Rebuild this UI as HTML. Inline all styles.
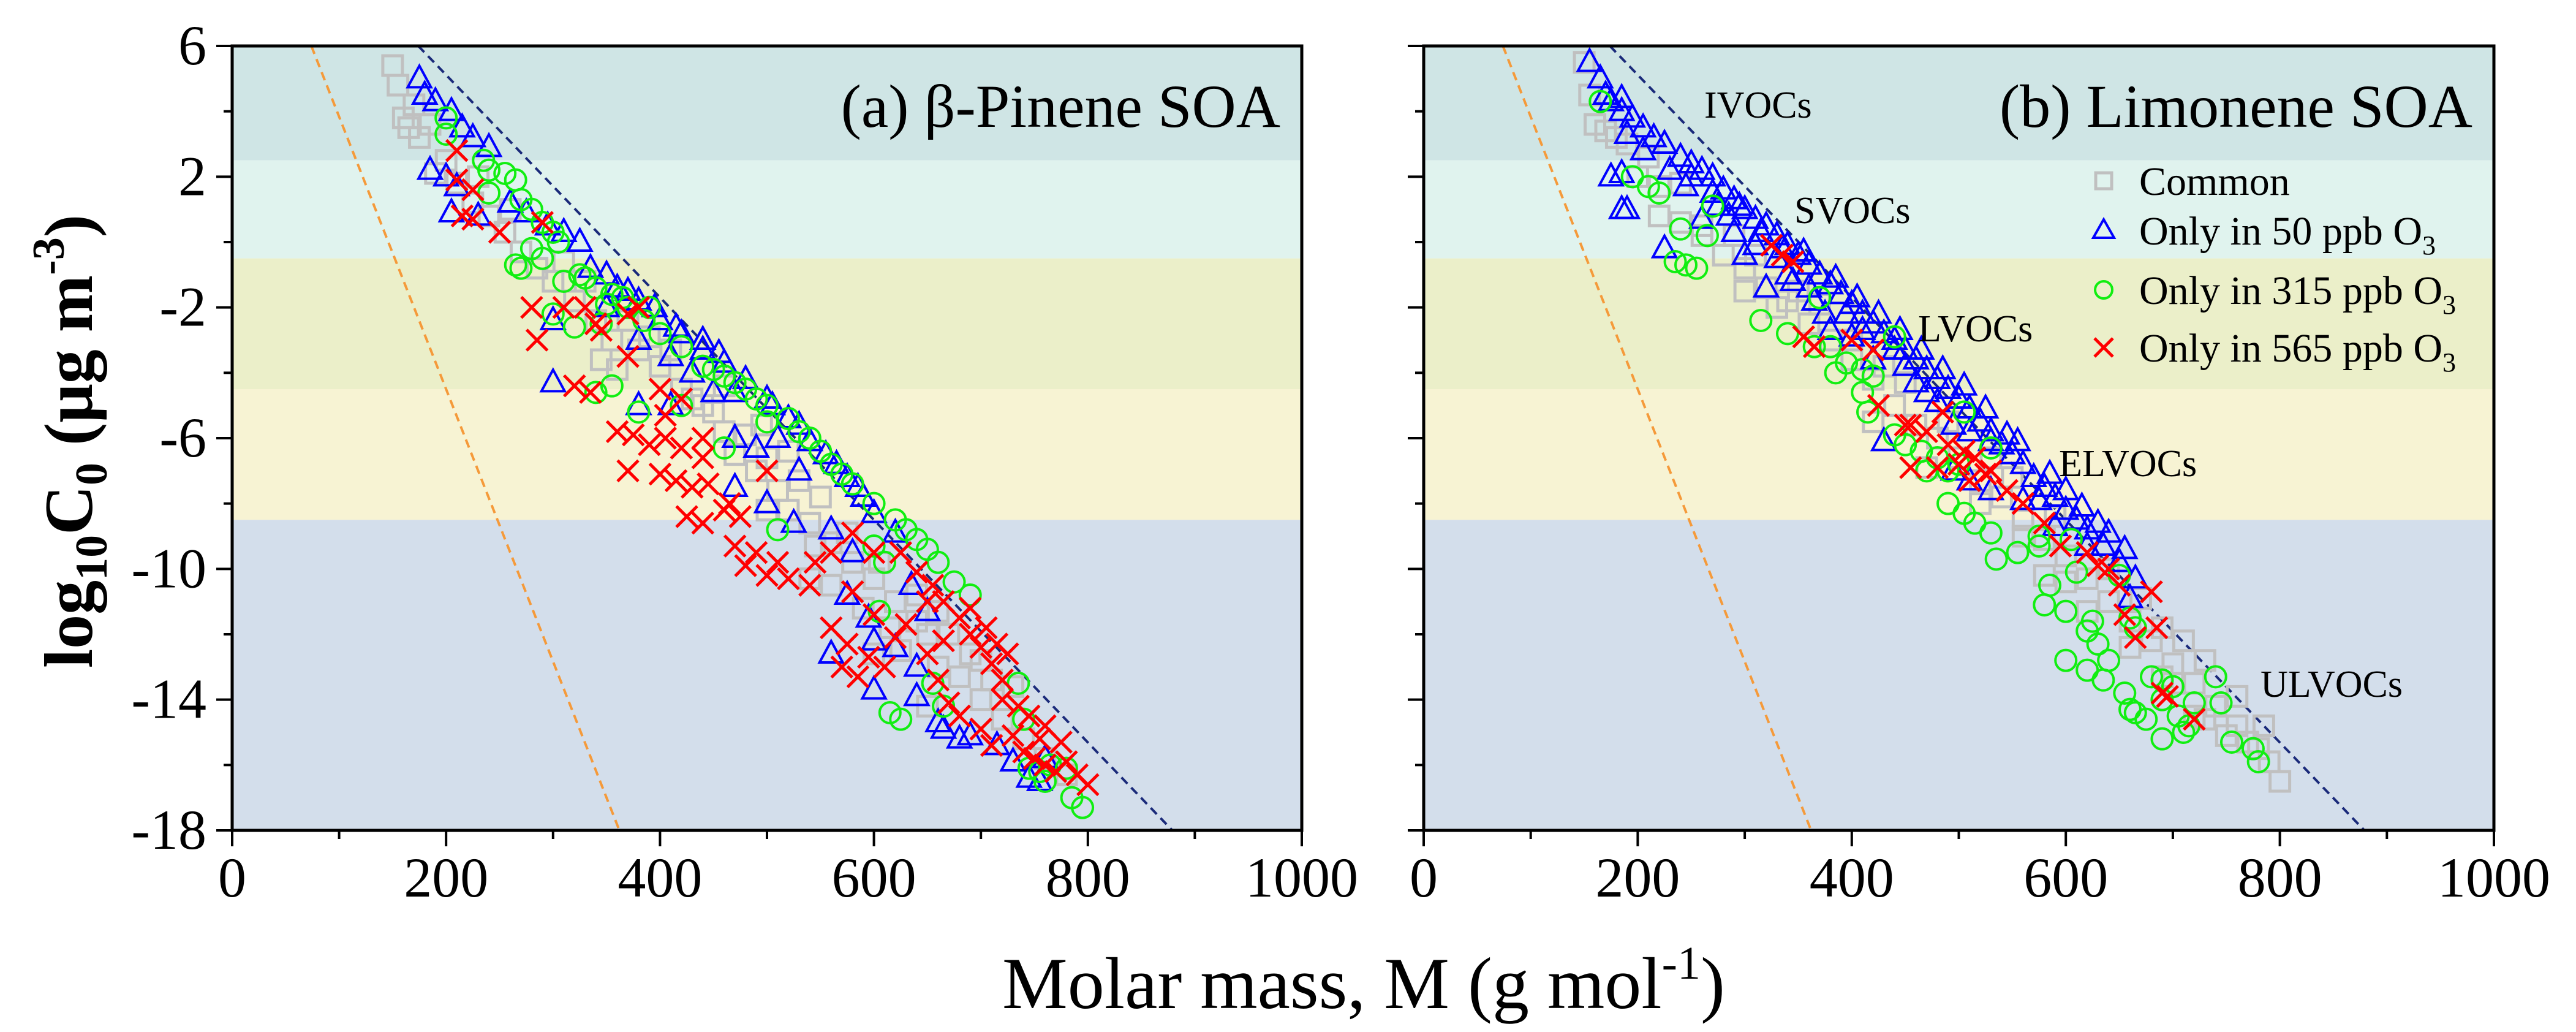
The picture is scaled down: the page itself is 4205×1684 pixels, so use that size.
<!DOCTYPE html>
<html><head><meta charset="utf-8">
<style>
html,body{margin:0;padding:0;background:#fff;}
svg{display:block;}
svg text{font-family:"Liberation Serif","DejaVu Serif",serif;}
</style></head>
<body>
<svg id="chart" width="4205" height="1684" viewBox="0 0 4205 1684" xmlns="http://www.w3.org/2000/svg" font-family="Liberation Serif, serif"></svg>
<script>
const xTicks = [0,200,400,600,800,1000];
const yTicks = [6,2,-2,-6,-10,-14,-18];
const bandEdges = [6,2.5,-0.5,-4.5,-8.5,-18];
const bandColors = ['#cfe5e5','#e0f3ee','#ebefc9','#f7f3d3','#d3deeb'];
const orangeLine = [[74,6],[362,-18]];
const navyLine = [[174,6],[879,-18]];

const aCommon = [[150,5.4],[155,4.8],[160,3.8],[165,3.5],[175,3.2],[190,2.1],[200,2.5],[210,1.8],[225,1.2],[240,0.8],[255,0.3],[270,-0.3],[285,-0.8],[300,-1.2],[320,-1.8],[340,-2.4],[355,-3.0],[345,-3.6],[360,-3.9],[380,-3.3],[400,-3.8],[420,-4.5],[440,-5.0],[460,-5.8],[470,-6.5],[490,-7.0],[510,-7.6],[520,-8.2],[540,-8.6],[560,-9.2],[580,-9.8],[600,-10.3],[560,-10.5],[620,-11.0],[640,-11.6],[625,-12.5],[650,-12.0],[660,-13.0],[680,-13.3],[700,-14.0],[720,-14.6],[740,-15.2],[760,-15.8],[780,-16.3],[500,-6.6],[530,-7.3],[550,-7.8],[450,-5.2],[430,-4.8],[480,-5.9],[575,-8.9],[605,-9.8],[640,-10.8],[670,-12.0],[690,-12.6],[710,-13.4],[650,-14.2],[600,-12.6],[540,-10.3],[170,4.2],[185,3.6],[230,2.0],[260,1.0],[310,-0.6],[330,-1.2],[370,-2.4],[390,-2.9],[410,-3.3],[460,-4.4],[495,-5.6],[520,-6.4],[500,-8.2],[545,-9.3],[590,-11.2],[615,-11.8],[660,-11.3],[700,-12.8],[730,-13.6]];
const aOnly50 = [[175,5.0],[180,4.5],[190,4.3],[205,4.0],[215,3.5],[225,3.2],[240,2.9],[185,2.2],[200,2.0],[210,1.7],[205,0.9],[230,0.8],[260,1.2],[275,0.9],[295,0.5],[310,0.3],[325,0.0],[350,-1.0],[360,-1.4],[380,-1.8],[400,-2.4],[420,-2.8],[440,-3.3],[460,-3.7],[480,-4.2],[500,-4.8],[520,-5.4],[540,-6.1],[555,-6.5],[575,-7.2],[590,-7.8],[600,-8.3],[620,-8.9],[300,-2.4],[300,-4.3],[380,-5.0],[410,-5.0],[430,-4.0],[350,-2.0],[380,-3.0],[410,-3.5],[470,-6.0],[470,-7.5],[500,-8.0],[525,-8.6],[560,-8.8],[580,-9.5],[575,-10.8],[595,-11.5],[635,-10.5],[650,-11.3],[640,-13.0],[600,-13.7],[640,-13.9],[660,-14.7],[665,-14.9],[680,-15.2],[690,-15.1],[715,-15.4],[730,-15.9],[745,-16.4],[755,-16.5],[760,-15.8],[600,-12.2],[560,-12.6],[620,-12.4],[440,-3.0],[470,-4.6],[510,-6.0],[530,-7.0],[450,-4.6],[490,-6.3],[395,-2.0],[415,-2.6],[455,-3.4],[505,-5.0],[530,-5.6],[565,-6.8],[585,-7.5],[335,-0.8],[370,-1.5]];
const aOnly315 = [[200,3.8],[200,3.3],[235,2.5],[240,2.2],[255,2.1],[265,1.9],[240,1.5],[270,1.3],[280,1.0],[290,0.6],[300,0.3],[305,0.0],[265,-0.7],[270,-0.8],[290,-0.5],[310,-1.2],[325,-1.0],[340,-1.4],[355,-1.6],[370,-2.0],[385,-2.4],[400,-2.8],[420,-3.2],[440,-3.8],[460,-4.1],[480,-4.5],[500,-5.0],[520,-5.4],[540,-6.0],[560,-6.8],[580,-7.4],[600,-8.0],[620,-8.5],[640,-9.1],[660,-9.8],[675,-10.4],[690,-10.8],[280,-0.2],[300,-2.2],[320,-2.6],[345,-2.5],[340,-4.6],[355,-4.4],[420,-5.0],[380,-5.2],[460,-6.3],[510,-8.8],[600,-9.3],[610,-9.8],[605,-11.3],[615,-14.4],[625,-14.6],[655,-13.5],[665,-14.2],[735,-13.5],[740,-14.6],[745,-16.1],[755,-16.2],[760,-16.5],[765,-16.0],[780,-16.1],[785,-17.0],[795,-17.3],[470,-4.3],[500,-5.5],[530,-5.8],[350,-1.9],[390,-2.0],[330,-1.1],[365,-1.7],[450,-3.9],[490,-4.8],[550,-6.4],[570,-7.1],[630,-8.8],[650,-9.4]];
const aOnly565 = [[210,2.8],[210,1.9],[225,1.6],[215,0.8],[225,0.7],[250,0.3],[290,0.6],[280,-2.0],[285,-3.0],[310,-2.0],[330,-2.0],[340,-2.5],[320,-4.4],[335,-4.6],[345,-2.7],[370,-3.5],[370,-2.2],[380,-2.0],[400,-4.5],[405,-5.3],[420,-4.8],[360,-5.8],[375,-5.9],[390,-6.2],[405,-6.0],[420,-6.3],[440,-6.6],[440,-6.0],[370,-7.0],[400,-7.1],[415,-7.3],[430,-7.5],[445,-7.4],[465,-8.0],[475,-8.4],[425,-8.4],[440,-8.6],[470,-9.3],[490,-9.5],[510,-9.8],[480,-9.9],[500,-10.2],[520,-10.3],[540,-10.5],[545,-9.8],[560,-9.5],[580,-10.7],[600,-11.4],[620,-12.1],[560,-11.8],[575,-12.3],[595,-12.7],[610,-13.0],[570,-13.0],[585,-13.3],[640,-10.1],[655,-10.5],[665,-11.0],[680,-11.5],[690,-12.0],[700,-12.4],[710,-12.9],[720,-13.4],[650,-12.6],[660,-13.4],[670,-14.1],[680,-14.5],[700,-14.9],[710,-15.4],[730,-15.1],[740,-15.6],[750,-15.8],[760,-16.0],[770,-16.2],[780,-15.9],[790,-16.3],[800,-16.6],[720,-14.0],[745,-14.5],[760,-14.8],[775,-15.3],[625,-9.5],[580,-8.9],[600,-9.5],[630,-11.7],[650,-11.0],[500,-7.0],[460,-8.2],[690,-11.2],[705,-11.8],[715,-12.3],[725,-12.6],[665,-12.2],[735,-14.2],[755,-15.2]];

const bCommon = [[150,5.5],[155,4.5],[160,3.6],[170,3.4],[190,3.0],[200,2.0],[220,1.7],[220,0.8],[240,0.6],[260,0.2],[280,-0.4],[300,-0.8],[320,-1.4],[340,-1.8],[360,-2.5],[380,-3.0],[400,-3.6],[420,-4.2],[440,-5.0],[460,-5.6],[480,-6.0],[500,-6.6],[520,-7.3],[540,-7.8],[560,-8.5],[580,-9.1],[600,-9.6],[620,-10.3],[640,-11.0],[660,-11.6],[680,-12.2],[700,-12.9],[720,-13.5],[740,-14.2],[760,-14.8],[780,-15.5],[800,-16.5],[350,-1.5],[330,-2.0],[420,-5.5],[470,-6.9],[520,-8.0],[580,-10.2],[620,-11.3],[660,-12.4],[700,-13.5],[730,-14.6],[750,-15.1],[560,-9.0],[600,-10.4],[690,-13.3],[710,-12.2],[770,-15.3],[720,-14.5],[400,-3.0],[300,-1.5],[260,0.5],[180,3.2],[210,2.6],[240,1.8],[290,0.2],[310,-0.4],[370,-1.9],[430,-3.8],[450,-4.3],[490,-5.5],[530,-6.6],[550,-7.2],[590,-8.4],[640,-10.0],[670,-10.9],[690,-11.8],[730,-12.8],[760,-13.9],[785,-14.8],[790,-15.9]];
const bOnly50 = [[155,5.5],[165,5.0],[175,4.3],[185,4.0],[195,3.8],[205,3.5],[215,3.2],[225,3.0],[240,2.6],[250,2.4],[260,2.2],[270,2.0],[280,1.6],[290,1.3],[300,1.0],[310,0.7],[320,0.5],[330,0.2],[340,-0.1],[350,-0.4],[360,-0.7],[370,-1.0],[380,-1.3],[390,-1.6],[400,-1.9],[410,-2.2],[420,-2.5],[430,-2.8],[440,-3.0],[450,-3.3],[460,-3.6],[470,-3.9],[480,-4.2],[490,-4.5],[500,-4.8],[510,-5.1],[520,-5.5],[530,-5.8],[540,-6.2],[550,-6.5],[560,-6.8],[570,-7.2],[580,-7.5],[590,-7.8],[600,-8.2],[610,-8.5],[620,-8.8],[635,-9.3],[650,-9.8],[665,-10.3],[170,4.5],[185,4.4],[190,3.3],[205,2.8],[185,2.1],[175,2.0],[185,1.0],[190,1.0],[225,-0.2],[245,1.7],[260,0.7],[275,1.1],[290,0.3],[300,-0.4],[310,-0.1],[330,-0.5],[345,-1.2],[320,-1.4],[340,-1.0],[360,-1.4],[375,-2.2],[395,-2.2],[380,-2.7],[400,-2.9],[420,-3.6],[440,-3.3],[460,-4.3],[480,-4.9],[495,-5.6],[510,-5.8],[430,-6.1],[495,-7.0],[510,-7.3],[530,-7.6],[560,-7.9],[590,-8.7],[620,-9.3],[660,-10.9],[230,2.2],[250,2.0],[270,1.5],[285,0.8],[355,-0.3],[365,-1.8],[410,-2.7],[450,-3.8],[470,-4.6],[530,-6.1],[545,-5.9],[575,-7.9],[600,-7.6],[640,-8.9],[655,-9.4],[295,1.1],[315,0.3],[335,-0.2],[385,-1.1],[405,-1.7],[425,-2.2],[445,-2.7],[465,-3.3],[485,-3.9],[505,-4.4],[525,-5.1],[555,-6.1],[585,-7.1],[615,-8.1],[630,-8.6]];
const bOnly315 = [[165,4.3],[195,2.0],[210,1.7],[220,1.5],[270,1.1],[240,0.4],[265,0.2],[235,-0.6],[245,-0.7],[255,-0.8],[370,-1.7],[315,-2.4],[340,-2.8],[365,-3.2],[380,-3.2],[395,-3.7],[385,-4.0],[410,-3.9],[420,-4.1],[410,-4.6],[415,-5.2],[440,-5.9],[450,-6.2],[465,-6.4],[480,-6.6],[470,-7.0],[490,-7.0],[500,-6.8],[440,-2.9],[505,-5.2],[530,-6.3],[490,-8.0],[505,-8.3],[515,-8.6],[530,-8.9],[535,-9.7],[555,-9.5],[575,-9.3],[575,-9.0],[585,-10.5],[580,-11.1],[600,-11.3],[610,-10.1],[605,-9.1],[625,-11.6],[620,-11.9],[630,-12.3],[640,-12.8],[650,-10.2],[660,-11.5],[665,-11.8],[600,-12.8],[620,-13.1],[635,-13.4],[655,-13.8],[660,-14.3],[665,-14.4],[675,-14.6],[690,-13.4],[700,-13.6],[705,-14.5],[715,-14.8],[720,-14.1],[710,-15.0],[690,-15.2],[740,-13.3],[745,-14.1],[755,-15.3],[775,-15.5],[780,-15.9],[690,-14.0],[680,-13.3]];
const bOnly565 = [[325,-0.1],[335,-0.4],[345,-0.6],[355,-2.9],[365,-3.2],[400,-3.0],[420,-3.3],[425,-5.0],[450,-5.6],[455,-5.6],[470,-5.8],[485,-5.2],[490,-6.2],[505,-6.4],[500,-6.8],[515,-6.6],[525,-7.1],[455,-6.9],[480,-6.9],[510,-7.3],[530,-7.0],[545,-7.6],[560,-8.0],[580,-8.6],[595,-9.3],[620,-9.5],[630,-9.9],[640,-10.0],[650,-10.5],[680,-10.7],[655,-11.4],[665,-12.1],[685,-11.8],[690,-13.8],[695,-13.9],[720,-14.6]];

const NS='http://www.w3.org/2000/svg';
const svg=document.getElementById('chart');
const SERIF='Liberation Serif, DejaVu Serif, serif';
function mk(tag,attrs,parent){const e=document.createElementNS(NS,tag);for(const k in attrs)e.setAttribute(k,attrs[k]);if(tag==='text')e.setAttribute('font-family',SERIF);(parent||svg).appendChild(e);return e;}

const TOP=75,BOT=1355,XMAX=1000,YMIN=-18,YMAX=6;
function panel(left,right,name,title,series,showYLabels){
  const g=mk('g',{});
  
  
  const sx=v=>left+(v/XMAX)*(right-left);
  const sy=v=>TOP+(YMAX-v)/(YMAX-YMIN)*(BOT-TOP);
  for(let i=0;i<bandColors.length;i++){
    const r=mk('rect',{x:left,y:sy(bandEdges[i]),width:right-left,height:sy(bandEdges[i+1])-sy(bandEdges[i]),fill:bandColors[i]},g);
    
    
  }
  const ol=mk('line',{x1:sx(orangeLine[0][0]),y1:sy(orangeLine[0][1]),x2:sx(orangeLine[1][0]),y2:sy(orangeLine[1][1]),stroke:'#f59a3a','stroke-width':4,'stroke-dasharray':'14 9'},g);
  
  
  const nl=mk('line',{x1:sx(navyLine[0][0]),y1:sy(navyLine[0][1]),x2:sx(navyLine[1][0]),y2:sy(navyLine[1][1]),stroke:'#1a2a7a','stroke-width':4,'stroke-dasharray':'14 9'},g);
  
  
  series.common.forEach(p=>{const e=mk('rect',{x:sx(p[0])-16,y:sy(p[1])-16,width:32,height:32,fill:'none',stroke:'#c0c0c0','stroke-width':5},g);
    });
  series.o50.forEach(p=>{const x=sx(p[0]),y=sy(p[1]);const e=mk('polygon',{points:`${x},${y-21} ${x-19},${y+14} ${x+19},${y+14}`,fill:'none',stroke:'#0000ff','stroke-width':4},g);
    });
  series.o315.forEach(p=>{const e=mk('circle',{cx:sx(p[0]),cy:sy(p[1]),r:17,fill:'none',stroke:'#11ee11','stroke-width':4},g);
    });
  series.o565.forEach(p=>{const x=sx(p[0]),y=sy(p[1]);const e=mk('path',{d:`M${x-17},${y-17}L${x+17},${y+17}M${x+17},${y-17}L${x-17},${y+17}`,stroke:'#ff0000','stroke-width':5,fill:'none'},g);
    });
  const fr=mk('rect',{x:left,y:TOP,width:right-left,height:BOT-TOP,fill:'none',stroke:'#000','stroke-width':5},g);
  
  for(let v=0;v<=XMAX;v+=100){const major=v%200===0;mk('line',{x1:sx(v),y1:BOT,x2:sx(v),y2:BOT+(major?26:14),stroke:'#000','stroke-width':4},g);}
  xTicks.forEach(v=>{const t=mk('text',{x:sx(v),y:BOT+108,'font-size':92,'text-anchor':'middle',fill:'#000'},g);t.textContent=v;
    });
  for(let v=YMIN;v<=YMAX;v+=2){const major=((v-2)%4===0);mk('line',{x1:left,y1:sy(v),x2:left-(major?26:14),y2:sy(v),stroke:'#000','stroke-width':4},g);}
  if(showYLabels){yTicks.forEach(v=>{const t=mk('text',{x:left-42,y:sy(v)+30,'font-size':92,'text-anchor':'end',fill:'#000'},g);t.textContent=v;
    });}
  const tt=mk('text',{x:right-35,y:207,'font-size':100,'text-anchor':'end',fill:'#000'},g);tt.textContent=title;
  
  return {sx,sy,g};
}
panel(379,2125,'panel-a-beta-pinene','(a) β-Pinene SOA',{common:aCommon,o50:aOnly50,o315:aOnly315,o565:aOnly565},true);
panel(2324,4071,'panel-b-limonene','(b) Limonene SOA',{common:bCommon,o50:bOnly50,o315:bOnly315,o565:bOnly565},false);

const classLabels=[['IVOCs',2782,192],['SVOCs',2929,364],['LVOCs',3131,557],['ELVOCs',3361,777],['ULVOCs',3690,1137]];
classLabels.forEach(c=>{const t=mk('text',{x:c[1],y:c[2],'font-size':62,fill:'#000'});t.textContent=c[0];
  });

const lg=mk('g',{});


const legendRows=[['Common',295],['Only in 50 ppb O',376],['Only in 315 ppb O',473],['Only in 565 ppb O',567]];
legendRows.forEach((r,i)=>{
  const mx=3434,my=r[1];
  let m;
  if(i===0)m=mk('rect',{x:mx-13,y:my-13,width:26,height:26,fill:'none',stroke:'#c0c0c0','stroke-width':5},lg);
  if(i===1)m=mk('polygon',{points:`${mx},${my-18} ${mx-17},${my+12} ${mx+17},${my+12}`,fill:'none',stroke:'#0000ff','stroke-width':4},lg);
  if(i===2)m=mk('circle',{cx:mx,cy:my,r:14,fill:'none',stroke:'#11ee11','stroke-width':4},lg);
  if(i===3)m=mk('path',{d:`M${mx-15},${my-15}L${mx+15},${my+15}M${mx+15},${my-15}L${mx-15},${my+15}`,stroke:'#ff0000','stroke-width':5},lg);
  
  
  const t=mk('text',{x:3492,y:my+23,'font-size':66,fill:'#000'},lg);
  t.textContent=r[0];
  if(i>0){const s=mk('tspan',{'font-size':44,dy:16},t);s.textContent='3';}
  
  
});

const xt=mk('text',{x:2226,y:1645,'font-size':120,'text-anchor':'middle',fill:'#000'});

xt.textContent='Molar mass, M (g mol';
const xs=mk('tspan',{'font-size':76,dy:-48},xt);xs.textContent='-1';
const xe=mk('tspan',{dy:48},xt);xe.textContent=')';

const yt=mk('text',{x:0,y:0,'font-size':112,'font-weight':'bold','text-anchor':'middle',fill:'#000',transform:'translate(150,720) rotate(-90)'});

yt.textContent='log';
const y1=mk('tspan',{'font-size':74,dy:24},yt);y1.textContent='10';
const y2=mk('tspan',{dy:-24},yt);y2.textContent='C';
const y3=mk('tspan',{'font-size':74,dy:24},yt);y3.textContent='0';
const y4=mk('tspan',{dy:-24},yt);y4.textContent=' (μg m';
const y5=mk('tspan',{'font-size':74,dy:-46},yt);y5.textContent='-3';
const y6=mk('tspan',{dy:46},yt);y6.textContent=')';
</script>
</body></html>
